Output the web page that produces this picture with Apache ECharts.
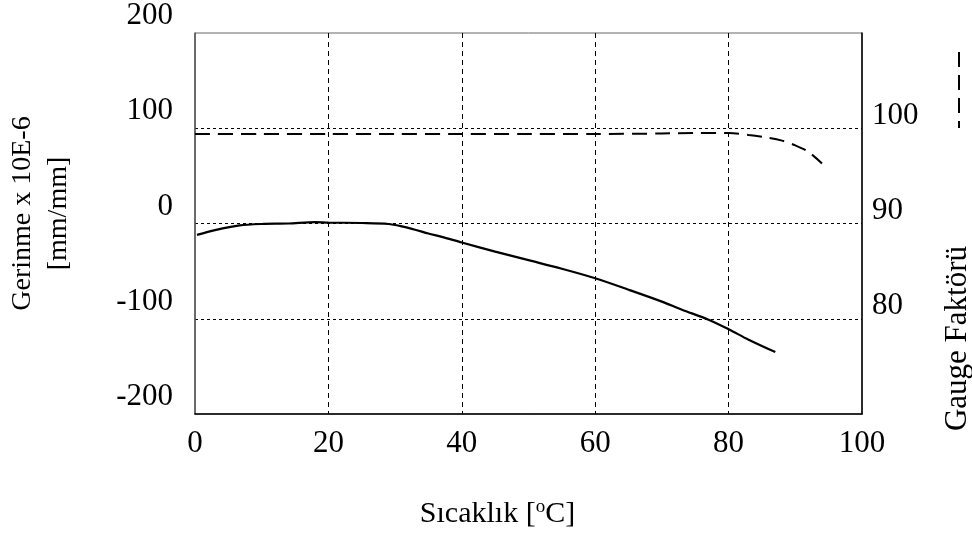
<!DOCTYPE html>
<html lang="tr">
<head>
    <meta charset="UTF-8">
    <title>Gerinme / Gauge Faktörü</title>
    <script src="https://cdn.jsdelivr.net/npm/echarts@6/dist/echarts.min.js"></script>
    <style>
        body { margin: 0; background: #fff; }
    </style>
</head>
<body>
    <div id="chart_div" style="width: 972px; height: 533px;"></div>
</body>
    <script type="text/javascript">

       // sıcaklık [°C] vs gerinme (x10E-6 mm/mm)
       var strainTemp = [0.3, 3, 6.7, 10, 14, 18, 20, 25, 29, 31, 33, 35, 37, 40, 45, 50, 55, 60, 65, 70, 73, 77, 80, 83, 87];
       var strainVals = [-12, -7, -2, -0.5, 0, 1.5, 1, 0.5, -0.5, -3, -6.5, -10.5, -14, -20, -29.5, -38.5, -47.5, -57.5, -69.5, -82, -90.5, -101, -111, -122, -135];

       // sıcaklık vs gauge faktörü
       var gaugeTemp = [0, 10, 20, 30, 40, 50, 60, 70, 75, 80, 83, 86, 88, 90, 92, 94];
       var gaugeVals = [99.4, 99.4, 99.4, 99.4, 99.4, 99.4, 99.4, 99.45, 99.5, 99.5, 99.3, 99.0, 98.7, 98.2, 97.5, 96.3];

       var xTicks = [0, 20, 40, 60, 80, 100];
       var leftTicks = [-200, -100, 0, 100, 200];
       var rightTicks = [80, 90, 100];

       var FONT = "'Liberation Serif', 'Times New Roman', serif";

       function pairs(xs, ys) {
           var out = [];
           for (var i = 0; i < xs.length; i++) {
               out.push([xs[i], ys[i]]);
           }
           return out;
       }

       var chart = echarts.init(document.getElementById("chart_div"));
       var options = {
            animation: false,
            textStyle: { fontFamily: FONT, color: '#000' },
            grid: {
                left: 195, right: 110, top: 33, bottom: 119,
                outerBoundsMode: 'none',
                containLabel: false,
                show: true, borderColor: '#666', borderWidth: 1
            },
            xAxis: {
                type: 'value',
                min: 0, max: 100, interval: 20,
                name: 'Sıcaklık [{sup|o}C]',
                nameLocation: 'middle',
                nameGap: 84,
                nameTextStyle: {
                    fontFamily: FONT, fontSize: 30, color: '#000',
                    padding: [0, 62, 0, 0],
                    rich: { sup: { fontFamily: FONT, fontSize: 19, verticalAlign: 'top', padding: [0, 0, 14, 0] } }
                },
                axisLine: { onZero: false, lineStyle: { color: '#000', width: 1.5 } },
                axisTick: { show: false },
                axisLabel: {
                    fontSize: 31, color: '#000', margin: 14,
                    formatter: function (v) { return xTicks.indexOf(v) >= 0 ? String(v) : ''; }
                },
                splitLine: { showMinLine: false, showMaxLine: false, lineStyle: { color: '#000', type: [5, 4], width: 1 } }
            },
            yAxis: [
                {
                    type: 'value',
                    position: 'left',
                    min: -200, max: 200, interval: 100,
                    name: 'Gerinme x 10E-6\n[mm/mm]',
                    nameLocation: 'middle',
                    nameRotate: 90,
                    nameGap: 118,
                    nameTextStyle: {
                        fontFamily: FONT, fontSize: 28, color: '#000', lineHeight: 36,
                        padding: [0, 0, 0, 20]
                    },
                    axisLine: { show: true, onZero: false, lineStyle: { color: '#555', width: 1.5 } },
                    axisTick: { show: false },
                    axisLabel: {
                        fontSize: 31, color: '#000', margin: 22,
                        verticalAlign: 'bottom', lineHeight: 34,
                        formatter: function (v) { return leftTicks.indexOf(v) >= 0 ? String(v) : ''; }
                    },
                    splitLine: { showMinLine: false, showMaxLine: false, lineStyle: { color: '#000', type: [3, 3], width: 1 } }
                },
                {
                    type: 'value',
                    position: 'right',
                    min: 70, max: 110, interval: 10,
                    name: 'Gauge Faktörü',
                    nameLocation: 'middle',
                    nameRotate: 90,
                    nameGap: 80,
                    nameTextStyle: {
                        fontFamily: FONT, fontSize: 31, color: '#000',
                        padding: [0, 230, 0, 0]
                    },
                    axisLine: { show: true, onZero: false, lineStyle: { color: '#000', width: 1.5 } },
                    axisTick: { show: false },
                    axisLabel: {
                        fontSize: 31, color: '#000', margin: 10,
                        verticalAlign: 'bottom', lineHeight: 25,
                        formatter: function (v) { return rightTicks.indexOf(v) >= 0 ? String(v) : ''; }
                    },
                    splitLine: { show: false }
                }
            ],
            graphic: [
                {
                    type: 'line',
                    shape: { x1: 959, y1: 52, x2: 959, y2: 128 },
                    style: { stroke: '#000', lineWidth: 2, lineDash: [15, 8] }
                }
            ],
            series: [
                {
                    name: 'Gerinme',
                    type: 'line',
                    yAxisIndex: 0,
                    data: pairs(strainTemp, strainVals),
                    smooth: 0.3,
                    showSymbol: false,
                    lineStyle: { color: '#000', width: 2.2 }
                },
                {
                    name: 'Gauge Faktörü',
                    type: 'line',
                    yAxisIndex: 1,
                    data: pairs(gaugeTemp, gaugeVals),
                    smooth: 0.3,
                    showSymbol: false,
                    lineStyle: { color: '#000', width: 2, type: [15, 8] }
                }
            ]
       };

       chart.setOption(options);

    </script>
</html>
